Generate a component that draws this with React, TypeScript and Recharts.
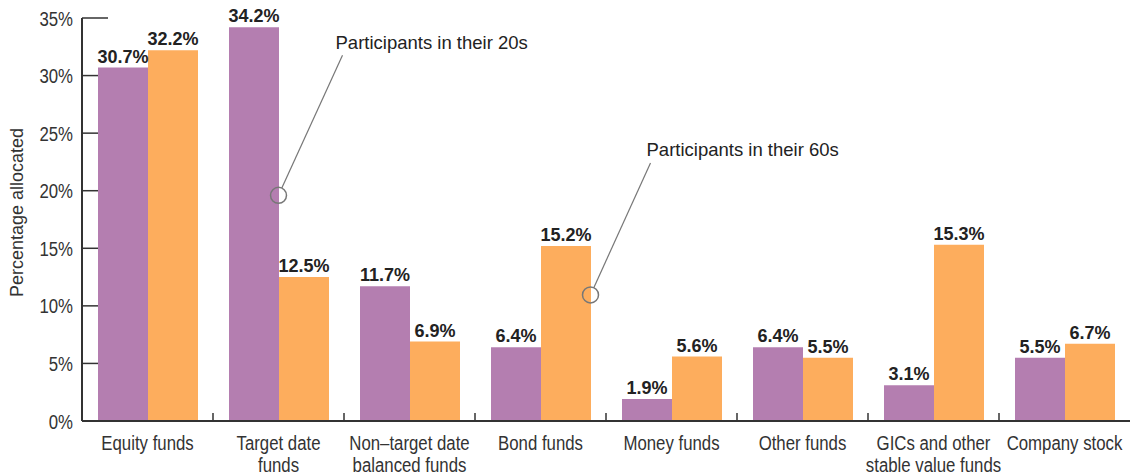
import React from "react";
import {
  BarChart,
  Bar,
  XAxis,
  YAxis,
  LabelList,
  ReferenceDot,
} from "recharts";

const categories = [
  "Equity funds",
  "Target date\nfunds",
  "Non\u2013target date\nbalanced funds",
  "Bond funds",
  "Money funds",
  "Other funds",
  "GICs and other\nstable value funds",
  "Company stock",
];
const twenties = [30.7, 34.2, 11.7, 6.4, 1.9, 6.4, 3.1, 5.5];
const sixties = [32.2, 12.5, 6.9, 15.2, 5.6, 5.5, 15.3, 6.7];
const yTicks = [0, 5, 10, 15, 20, 25, 30, 35];

const data = categories.map((name, i) => ({
  name,
  twenties: twenties[i],
  sixties: sixties[i],
}));

const W = 1131;
const H = 476;
const AXIS_W = 82;
const TOP = 18;
const X_AXIS_H = 55;
const RIGHT = 1;
const BAR = 50;
const band = (W - AXIS_W - RIGHT) / categories.length;

const purple = "#b47eb0";
const orange = "#fdad5d";
const sans = "'Liberation Sans', Arial, sans-serif";
// condensed look: squeeze regular sans horizontally
const SQUEEZE = 0.8;

const Condensed = ({ x, y, anchor, children }: any) => (
  <text
    transform={`translate(${x},${y}) scale(${SQUEEZE},1)`}
    textAnchor={anchor}
    fontFamily={sans}
    fontSize={21}
    fill="#333"
  >
    {children}
  </text>
);

const YTick = (props: any) => {
  const { x, y, payload } = props;
  const axisX = x + 9;
  const len = payload.value === 35 ? 26 : 16;
  return (
    <g>
      <line x1={axisX} x2={axisX + len} y1={y} y2={y} stroke="#333" strokeWidth={1.5} />
      <Condensed x={x} y={y + 7.5} anchor="end">
        {payload.value}%
      </Condensed>
    </g>
  );
};

const XTick = (props: any) => {
  const { x, y, payload, index } = props;
  const lines = String(payload.value).split("\n");
  return (
    <g>
      {index < categories.length - 1 && (
        <line
          x1={x + band / 2}
          x2={x + band / 2}
          y1={y}
          y2={y - 8}
          stroke="#333"
          strokeWidth={1.5}
        />
      )}
      {lines.map((l, i) => (
        <Condensed key={i} x={x} y={y + 29 + i * 22} anchor="middle">
          {l}
        </Condensed>
      ))}
    </g>
  );
};

const ValueLabel = (props: any) => {
  const { x, y, width, value } = props;
  return (
    <text
      x={x + width / 2}
      y={y - 5}
      textAnchor="middle"
      fontFamily={sans}
      fontWeight="bold"
      fontSize={18}
      fill="#222"
    >
      {Number(value).toFixed(1)}%
    </text>
  );
};

const callout = (text: string, shift: number, lx: number, ly: number, tx: number, ty: number) =>
  (props: any) => {
    const cx = props.cx + shift;
    const cy = props.cy;
    const r = 8;
    const d = Math.hypot(lx, ly);
    return (
      <g>
        <circle cx={cx} cy={cy} r={r} fill="none" stroke="#777" strokeWidth={1.5} />
        <line
          x1={cx + (lx / d) * r}
          y1={cy + (ly / d) * r}
          x2={cx + lx}
          y2={cy + ly}
          stroke="#777"
          strokeWidth={1.2}
        />
        <text x={cx + tx} y={cy + ty} fontFamily={sans} fontSize={18.5} fill="#222">
          {text}
        </text>
      </g>
    );
  };

export default function App() {
  return (
    <div style={{ width: W, height: H, background: "#fff" }}>
      <style>{`body{margin:0}`}</style>
      <BarChart
        width={W}
        height={H}
        data={data}
        margin={{ top: TOP, right: RIGHT, left: 0, bottom: 0 }}
        barGap={0}
        barSize={BAR}
      >
        <XAxis
          dataKey="name"
          interval={0}
          height={X_AXIS_H}
          tickLine={false}
          tickSize={0}
          tickMargin={0}
          axisLine={{ stroke: "#333", strokeWidth: 2 }}
          tick={<XTick />}
        />
        <YAxis
          width={AXIS_W}
          domain={[0, 35]}
          ticks={yTicks}
          interval={0}
          tickLine={false}
          tickSize={0}
          tickMargin={9}
          axisLine={{ stroke: "#333", strokeWidth: 2 }}
          tick={<YTick />}
          label={{
            value: "Percentage allocated",
            angle: -90,
            position: "insideLeft",
            dx: 12,
            dy: -7,
            style: { fontFamily: sans, fontSize: 18, fill: "#333", textAnchor: "middle" },
          }}
        />
        <Bar dataKey="twenties" fill={purple} isAnimationActive={false}>
          <LabelList dataKey="twenties" content={<ValueLabel />} />
        </Bar>
        <Bar dataKey="sixties" fill={orange} isAnimationActive={false}>
          <LabelList dataKey="sixties" content={<ValueLabel />} />
        </Bar>
        <ReferenceDot
          x={categories[1]}
          y={19.6}
          ifOverflow="visible"
          shape={callout("Participants in their 20s", 0, 64, -140, 57, -146)}
        />
        <ReferenceDot
          x={categories[3]}
          y={10.95}
          ifOverflow="visible"
          shape={callout("Participants in their 60s", BAR, 60, -132, 56, -139)}
        />
      </BarChart>
    </div>
  );
}
